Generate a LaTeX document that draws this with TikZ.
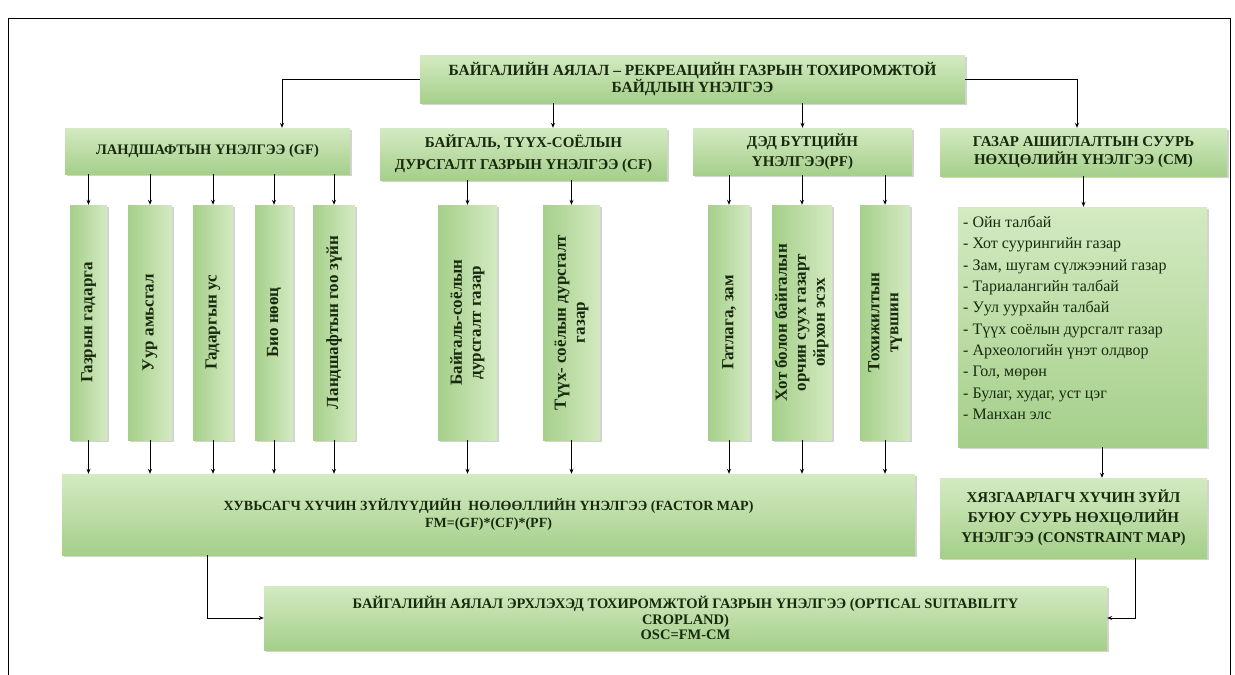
\documentclass[tikz,border=0pt]{standalone}
\usepackage{fontspec}
\setmainfont{Liberation Serif}
\usetikzlibrary{arrows.meta,shadows,calc}
\definecolor{gLight}{RGB}{212,234,194}
\definecolor{gMid}{RGB}{165,207,138}
\definecolor{txtG}{RGB}{24,42,14}
\begin{document}
\begin{tikzpicture}[x=1pt,y=-1pt,
  box/.style={shade, top color=gLight, bottom color=gMid,
    drop shadow={shadow xshift=2pt,shadow yshift=-2pt,opacity=.35},
    align=center, text=txtG, inner sep=2pt,
    font=\fontsize{15}{18}\selectfont\bfseries},
  vbox/.style={shade, left color=gMid, right color=gLight,
    drop shadow={shadow xshift=2pt,shadow yshift=-2pt,opacity=.35},
    text=txtG, inner sep=0pt, minimum height=235pt,
    font=\fontsize{17}{19}\selectfont\bfseries},
  arr/.style={line width=0.8pt, -{Stealth[length=5pt,width=4pt]}},
  ln/.style={line width=0.8pt}]
\useasboundingbox (0,0) rectangle (1235,675);
\draw[ln] (8,675) -- (8,18) -- (1230,18) -- (1230,675);

% top
\node[box, minimum width=545pt, minimum height=48pt, font=\fontsize{15.5}{17}\selectfont\bfseries] (T) at (692.5,79)
  {БАЙГАЛИЙН АЯЛАЛ – РЕКРЕАЦИЙН ГАЗРЫН ТОХИРОМЖТОЙ\\БАЙДЛЫН ҮНЭЛГЭЭ};
% level 2
\node[box, minimum width=285pt, minimum height=46pt, font=\fontsize{14.5}{18}\selectfont\bfseries] (GF) at (207.5,151)
  {ЛАНДШАФТЫН ҮНЭЛГЭЭ (GF)};
\node[box, minimum width=287pt, minimum height=52pt, font=\fontsize{15}{22}\selectfont\bfseries] (CF) at (523.5,154)
  {БАЙГАЛЬ, ТҮҮХ-СОЁЛЫН\\ДУРСГАЛТ ГАЗРЫН ҮНЭЛГЭЭ (CF)};
\node[box, minimum width=219pt, minimum height=47pt, font=\fontsize{15}{20}\selectfont\bfseries] (PF) at (802.5,151.5)
  {ДЭД БҮТЦИЙН\\ҮНЭЛГЭЭ(PF)};
\node[box, minimum width=287pt, minimum height=48pt, font=\fontsize{15}{18}\selectfont\bfseries] (CM) at (1083.5,152)
  {ГАЗАР АШИГЛАЛТЫН СУУРЬ\\НӨХЦӨЛИЙН ҮНЭЛГЭЭ (CM)};

% vertical boxes
\node[vbox, minimum width=37pt] (g1) at (88.5,322.5) {\rotatebox{90}{Газрын гадарга}};
\node[vbox, minimum width=44pt] (g2) at (150,322.5) {\rotatebox{90}{Уур амьсгал}};
\node[vbox, minimum width=40pt] (g3) at (213,322.5) {\rotatebox{90}{Гадаргын ус}};
\node[vbox, minimum width=38pt] (g4) at (274,322.5) {\rotatebox{90}{Био нөөц}};
\node[vbox, minimum width=42pt] (g5) at (334,322.5) {\rotatebox{90}{Ландшафтын гоо зүйн}};
\node[vbox, minimum width=59pt] (c1) at (467.5,322.5) {\rotatebox{90}{\begin{tabular}{@{}c@{}}Байгаль-соёлын\\дурсгалт газар\end{tabular}}};
\node[vbox, minimum width=57pt] (c2) at (571.5,322.5) {\rotatebox{90}{\begin{tabular}{@{}c@{}}Түүх- соёлын дурсгалт\\газар\end{tabular}}};
\node[vbox, minimum width=42pt] (p1) at (729,322.5) {\rotatebox{90}{Гатлага, зам}};
\node[vbox, minimum width=60pt] (p2) at (802,322.5) {\rotatebox{90}{\begin{tabular}{@{}c@{}}Хот болон байгалын\\орчин суух газарт\\ойрхон эсэх\end{tabular}}};
\node[vbox, minimum width=50pt] (p3) at (885,322.5) {\rotatebox{90}{\begin{tabular}{@{}c@{}}Тохижилтын\\түвшин\end{tabular}}};

% list box
\node[box, minimum width=249pt, minimum height=240pt] (L) at (1082.5,327) {};
\node[anchor=north west, align=left, text=txtG, inner sep=0pt, font=\fontsize{16}{21.3}\selectfont] (Lt) at (963,216)
  {- Ойн талбай\\- Хот суурингийн газар\\- Зам, шугам  сүлжээний газар\\- Тариалангийн талбай\\- Уул уурхайн талбай\\- Түүх соёлын дурсгалт газар\\- Археологийн үнэт олдвор\\- Гол, мөрөн\\- Булаг, худаг,  уст цэг\\- Манхан элс};

% constraint
\node[box, minimum width=267pt, minimum height=80pt, font=\fontsize{15}{20}\selectfont\bfseries] (K) at (1073.5,518)
  {ХЯЗГААРЛАГЧ ХҮЧИН ЗҮЙЛ\\БУЮУ СУУРЬ НӨХЦӨЛИЙН\\ҮНЭЛГЭЭ (CONSTRAINT MAP)};
% factor map
\node[box, minimum width=853pt, minimum height=81pt, font=\fontsize{14}{17}\selectfont\bfseries] (F) at (488.5,514.5)
  {ХУВЬСАГЧ ХҮЧИН ЗҮЙЛҮҮДИЙН\ \ НӨЛӨӨЛЛИЙН ҮНЭЛГЭЭ (FACTOR MAP)\\FM=(GF)*(CF)*(PF)};
% final
\node[box, minimum width=843pt, minimum height=64pt, font=\fontsize{14.5}{15.5}\selectfont\bfseries] (O) at (685.5,618)
  {БАЙГАЛИЙН АЯЛАЛ ЭРХЛЭХЭД ТОХИРОМЖТОЙ ГАЗРЫН ҮНЭЛГЭЭ (OPTICAL SUITABILITY\\CROPLAND)\\OSC=FM-CM};

% connectors
\draw[arr] (T.west) -| ([xshift=74.5pt]GF.north);
\draw[arr] ([xshift=29.5pt]CF.north |- T.south) -- ([xshift=29.5pt]CF.north);
\draw[arr] (T.south -| PF.north) -- (PF.north);
\draw[arr] (T.east) -| ([xshift=-6.5pt]CM.north);
\foreach \g in {g1,g2,g3,g4,g5}{
  \draw[arr] (GF.south -| \g.north) -- (\g.north);
  \draw[arr] (\g.south) -- (\g.south |- F.north);}
\foreach \g in {c1,c2}{
  \draw[arr] (CF.south -| \g.north) -- (\g.north);
  \draw[arr] (\g.south) -- (\g.south |- F.north);}
\foreach \g in {p1,p2,p3}{
  \draw[arr] (PF.south -| \g.north) -- (\g.north);
  \draw[arr] (\g.south) -- (\g.south |- F.north);}
\draw[arr] (CM.south) -- (CM.south |- L.north);
\draw[arr] ([xshift=19.5pt]L.south) -- ([xshift=19.5pt]L.south |- K.north);
\draw[arr] ([xshift=-281.5pt]F.south) |- (O.west);
\draw[arr] ([xshift=62pt]K.south) |- (O.east);
\end{tikzpicture}
\end{document}
